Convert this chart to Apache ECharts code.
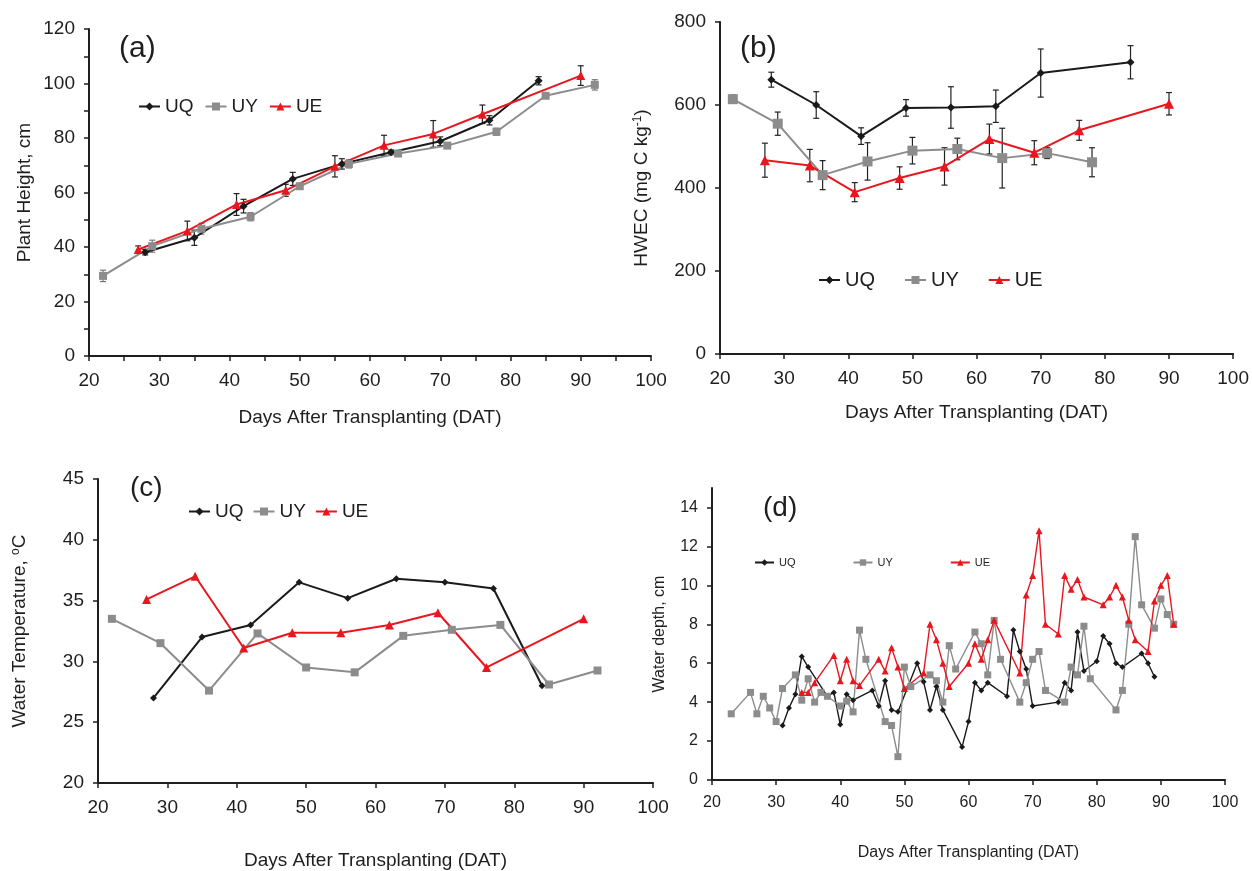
<!DOCTYPE html>
<html>
<head>
<meta charset="utf-8">
<title>Plant height, HWEC, water temperature and water depth</title>
<script src="https://cdn.jsdelivr.net/npm/echarts@6/dist/echarts.min.js"></script>
<style>
html, body { margin: 0; padding: 0; background: #fff; }
#chart { width: 1252px; height: 871px; }
</style>
</head>
<body>
<div id="chart"></div>
<script>
// (a) plant height, cm  (days after transplanting, mean, +/- error)
var htDayUQ = [28, 35, 42, 49, 56, 63, 70, 77, 84];
var htUQ    = [38.1, 43.4, 55.0, 65.0, 70.5, 74.8, 78.8, 86.5, 101.0];
var htErrUQ = [1.0, 2.8, 2.5, 2.4, 1.9, 0.8, 1.6, 1.7, 1.5];
var htDayUY = [22, 29, 36, 43, 50, 57, 64, 71, 78, 85, 92];
var htUY    = [29.4, 40.3, 46.7, 51.1, 62.3, 70.5, 74.3, 77.2, 82.3, 95.5, 99.5];
var htErrUY = [2.1, 2.2, 2.0, 1.5, 1.0, 1.5, 1.0, 0.8, 1.3, 0.8, 1.9];
var htDayUE = [27, 34, 41, 48, 55, 62, 69, 76, 90];
var htUE    = [39.1, 45.9, 55.6, 60.8, 69.6, 77.3, 81.5, 88.7, 102.9];
var htErrUE = [1.3, 3.6, 4.0, 2.2, 3.9, 3.7, 4.9, 3.4, 3.6];

// (b) HWEC, mg C kg-1
var hwDayUQ = [28, 35, 42, 49, 56, 63, 70, 84];
var hwUQ    = [661, 600, 525, 593, 594, 597, 677, 703];
var hwErrUQ = [18, 32, 20, 20, 50, 39, 58, 40];
var hwDayUY = [22, 29, 36, 43, 50, 57, 64, 71, 78];
var hwUY    = [614, 555, 431, 464, 490, 494, 472, 484, 462];
var hwErrUY = [10, 28, 35, 45, 32, 26, 72, 13, 35];
var hwDayUE = [27, 34, 41, 48, 55, 62, 69, 76, 90];
var hwUE    = [467, 454, 390, 424, 452, 518, 485, 539, 603];
var hwErrUE = [41, 39, 23, 27, 45, 36, 29, 24, 27];

// (c) water temperature, oC
var wtDayUQ = [28, 35, 42, 49, 56, 63, 70, 77, 84];
var wtUQ    = [27.0, 32.0, 33.0, 36.5, 35.2, 36.8, 36.5, 36.0, 28.0];
var wtDayUY = [22, 29, 36, 43, 50, 57, 64, 71, 78, 85, 92];
var wtUY    = [33.5, 31.5, 27.6, 32.3, 29.5, 29.1, 32.1, 32.6, 33.0, 28.1, 29.25];
var wtDayUE = [27, 34, 41, 48, 55, 62, 69, 76, 90];
var wtUE    = [35.1, 37.0, 31.1, 32.35, 32.35, 33.0, 34.0, 29.5, 33.5];

// (d) water depth, cm
var wdDayUQ = [31, 32, 33, 34, 35, 38, 39, 40, 41, 42, 45, 46, 47, 48, 49, 52, 53, 54, 55, 56, 59, 60,
               61, 62, 63, 66, 67, 68, 69, 70, 74, 75, 76, 77, 78, 80, 81, 82, 83, 84, 87, 88, 89];
var wdUQ    = [2.8, 3.7, 4.4, 6.35, 5.8, 4.3, 4.5, 2.85, 4.4, 4.1, 4.6, 3.8, 5.1, 3.6, 3.5, 6.0, 5.05, 3.6, 4.8, 3.6, 1.7, 3.0,
               5.0, 4.6, 5.0, 4.3, 7.7, 6.6, 5.7, 3.8, 4.0, 5.0, 4.6, 7.6, 5.6, 6.1, 7.4, 7.0, 6.0, 5.8, 6.5, 6.0, 5.3];
var wdDayUY = [23, 26, 27, 28, 29, 30, 31, 33, 34, 35, 36, 37, 38, 40, 41, 42, 43, 44, 47, 48, 49, 50, 51, 54, 55, 56, 57, 58,
               61, 62, 63, 64, 65, 68, 69, 70, 71, 72, 75, 76, 77, 78, 79, 83, 84, 85, 86, 87, 89, 90, 91, 92];
var wdUY    = [3.4, 4.5, 3.4, 4.3, 3.7, 3.0, 4.7, 5.4, 4.1, 5.2, 4.0, 4.5, 4.3, 3.8, 4.05, 3.5, 7.7, 6.2, 3.0, 2.8, 1.2, 5.8, 4.8, 5.4, 5.1, 4.0, 6.9, 5.7,
               7.6, 7.0, 5.4, 8.2, 6.2, 4.0, 5.0, 6.2, 6.6, 4.6, 4.0, 5.8, 5.4, 7.9, 5.2, 3.6, 4.6, 8.0, 12.5, 9.0, 7.8, 9.3, 8.5, 8.0];
var wdDayUE = [34, 35, 36, 39, 40, 41, 42, 43, 46, 47, 48, 49, 50, 53, 54, 55, 56, 57, 60, 61, 62, 63, 64,
               68, 69, 70, 71, 72, 74, 75, 76, 77, 78, 81, 82, 83, 84, 85, 86, 88, 89, 90, 91, 92];
var wdUE    = [4.5, 4.5, 5.0, 6.4, 5.1, 6.2, 5.1, 4.85, 6.2, 5.6, 6.8, 5.8, 4.7, 5.5, 8.0, 7.2, 6.0, 4.8, 6.0, 7.0, 6.2, 7.2, 8.2,
               5.5, 9.5, 10.5, 12.8, 8.0, 7.5, 10.5, 9.8, 10.3, 9.4, 9.0, 9.4, 10.0, 9.4, 8.2, 7.2, 6.6, 9.2, 10.0, 10.5, 8.0];
var depthTicks = [0, 2, 4, 6, 8, 10, 12, 14];

var seriesNames = ['UQ', 'UY', 'UE'];
var FONT = 'Liberation Sans, Arial, sans-serif';
var INK = '#1e1e1e';
var colUQ = '#1a1a1a', colUY = '#8c8c8c', colUE = '#e8161f';

function pairs(days, vals) {
    return days.map(function (d, i) { return [d, vals[i]]; });
}
function bars(days, vals, err) {
    return days.map(function (d, i) { return [d, vals[i] - err[i], vals[i] + err[i]]; });
}

function lineSeries(name, gi, data, color, symbol, size, width) {
    return {
        name: name, type: 'line', xAxisIndex: gi, yAxisIndex: gi,
        data: data, symbol: symbol, symbolSize: size,
        itemStyle: { color: color }, lineStyle: { color: color, width: width },
        z: 3
    };
}

function errorSeries(gi, data, color) {
    return {
        type: 'custom', xAxisIndex: gi, yAxisIndex: gi, data: data, z: 2,
        encode: { x: 0, y: [1, 2] },
        renderItem: function (params, api) {
            var lo = api.coord([api.value(0), api.value(1)]);
            var hi = api.coord([api.value(0), api.value(2)]);
            var w = 3;
            var st = { stroke: color, lineWidth: 1.2 };
            return {
                type: 'group',
                children: [
                    { type: 'line', shape: { x1: lo[0], y1: lo[1], x2: hi[0], y2: hi[1] }, style: st },
                    { type: 'line', shape: { x1: hi[0] - w, y1: hi[1], x2: hi[0] + w, y2: hi[1] }, style: st },
                    { type: 'line', shape: { x1: lo[0] - w, y1: lo[1], x2: lo[0] + w, y2: lo[1] }, style: st }
                ]
            };
        }
    };
}

function xAxis(gi, fs, gap, minor) {
    return {
        type: 'value', gridIndex: gi, min: 20, max: 100, interval: 10,
        name: 'Days After Transplanting (DAT)', nameLocation: 'middle', nameGap: gap,
        nameTextStyle: { fontSize: fs, color: INK, fontFamily: FONT },
        axisLine: { show: true, onZero: false, lineStyle: { color: INK, width: 2 } },
        axisTick: { show: true, length: 5, lineStyle: { color: INK, width: 1.5 } },
        minorTick: { show: minor, splitNumber: 2, length: 5, lineStyle: { color: INK, width: 1.5 } },
        axisLabel: { fontSize: fs, color: INK, fontFamily: FONT, margin: 15 },
        splitLine: { show: false }
    };
}

function yAxis(gi, min, max, interval, name, fs, gap, minor, rich, ticks) {
    var ax = {
        type: 'value', gridIndex: gi, min: min, max: max, interval: interval,
        name: name, nameLocation: 'middle', nameGap: gap,
        nameTextStyle: { fontSize: fs, color: INK, fontFamily: FONT, rich: rich || {} },
        axisLine: { show: true, onZero: false, lineStyle: { color: INK, width: 2 } },
        axisTick: { show: true, length: 5, lineStyle: { color: INK, width: 1.5 } },
        minorTick: { show: minor, splitNumber: 2, length: 5, lineStyle: { color: INK, width: 1.5 } },
        axisLabel: { fontSize: fs, color: INK, fontFamily: FONT, margin: 14 },
        splitLine: { show: false }
    };
    if (ticks) {
        ax.axisTick.customValues = ticks;
        ax.axisLabel.customValues = ticks;
    }
    return ax;
}

function legend(left, top, iw, ih, gap, fs) {
    return {
        left: left, top: top, padding: 0, itemWidth: iw, itemHeight: ih, itemGap: gap,
        data: seriesNames, selectedMode: false,
        textStyle: { fontSize: fs, color: INK, fontFamily: FONT }
    };
}

function panelLabel(text, left, top, fs) {
    return { text: text, left: left, top: top, padding: 0,
             textStyle: { fontSize: fs, fontWeight: 'normal', color: INK, fontFamily: FONT } };
}

var supRich = { sup: { fontSize: 12, verticalAlign: 'top', lineHeight: 20, color: INK, fontFamily: FONT } };

var myChart = echarts.init(document.getElementById('chart'));
var option = {
    animation: false,
    backgroundColor: '#fff',
    title: [
        panelLabel('(a)', 119, 34, 30),
        panelLabel('(b)', 740, 34, 30),
        panelLabel('(c)', 130, 474, 28),
        panelLabel('(d)', 763, 494, 28)
    ],
    legend: [
        legend(138, 97, 21, 10, 11, 19),
        legend(818, 270, 21, 10, 29, 20),
        legend(188, 502, 21, 10, 9, 19),
        legend(754, 557, 19, 8, 57, 11)
    ],
    grid: [
        { left: 89, right: 601, top: 29, bottom: 515 },
        { left: 720, right: 17, top: 22, bottom: 517 },
        { left: 98, right: 599, top: 479, bottom: 87 },
        { left: 712, right: 27, top: 488, bottom: 91 }
    ],
    xAxis: [
        xAxis(0, 19, 52, true),
        xAxis(1, 19, 49, false),
        xAxis(2, 19, 68, false),
        xAxis(3, 16, 65, false)
    ],
    yAxis: [
        yAxis(0, 0, 120, 20, 'Plant Height, cm', 19, 55, true),
        yAxis(1, 0, 800, 200, 'HWEC (mg C kg{sup|-1})', 19, 68, false, supRich),
        yAxis(2, 20, 45, 5, 'Water Temperature, {sup|o}C', 19, 68, false, supRich),
        yAxis(3, 0, 15, 1, 'Water depth, cm', 16, 44, false, null, depthTicks)
    ],
    series: [
        errorSeries(0, bars(htDayUQ, htUQ, htErrUQ), '#222'),
        errorSeries(0, bars(htDayUY, htUY, htErrUY), '#777'),
        errorSeries(0, bars(htDayUE, htUE, htErrUE), '#222'),
        lineSeries('UQ', 0, pairs(htDayUQ, htUQ), colUQ, 'diamond', 8, 2),
        lineSeries('UY', 0, pairs(htDayUY, htUY), colUY, 'rect', 8, 2),
        lineSeries('UE', 0, pairs(htDayUE, htUE), colUE, 'triangle', 9, 2),

        errorSeries(1, bars(hwDayUQ, hwUQ, hwErrUQ), '#222'),
        errorSeries(1, bars(hwDayUY, hwUY, hwErrUY), '#222'),
        errorSeries(1, bars(hwDayUE, hwUE, hwErrUE), '#222'),
        lineSeries('UQ', 1, pairs(hwDayUQ, hwUQ), colUQ, 'diamond', 8, 2),
        lineSeries('UY', 1, pairs(hwDayUY, hwUY), colUY, 'rect', 10, 2),
        lineSeries('UE', 1, pairs(hwDayUE, hwUE), colUE, 'triangle', 10, 2),

        lineSeries('UQ', 2, pairs(wtDayUQ, wtUQ), colUQ, 'diamond', 7, 2),
        lineSeries('UY', 2, pairs(wtDayUY, wtUY), colUY, 'rect', 8, 2),
        lineSeries('UE', 2, pairs(wtDayUE, wtUE), colUE, 'triangle', 9, 2),

        lineSeries('UQ', 3, pairs(wdDayUQ, wdUQ), colUQ, 'diamond', 6, 1.4),
        lineSeries('UY', 3, pairs(wdDayUY, wdUY), colUY, 'rect', 7, 1.4),
        lineSeries('UE', 3, pairs(wdDayUE, wdUE), colUE, 'triangle', 7, 1.4)
    ]
};
myChart.setOption(option);
</script>
</body>
</html>
